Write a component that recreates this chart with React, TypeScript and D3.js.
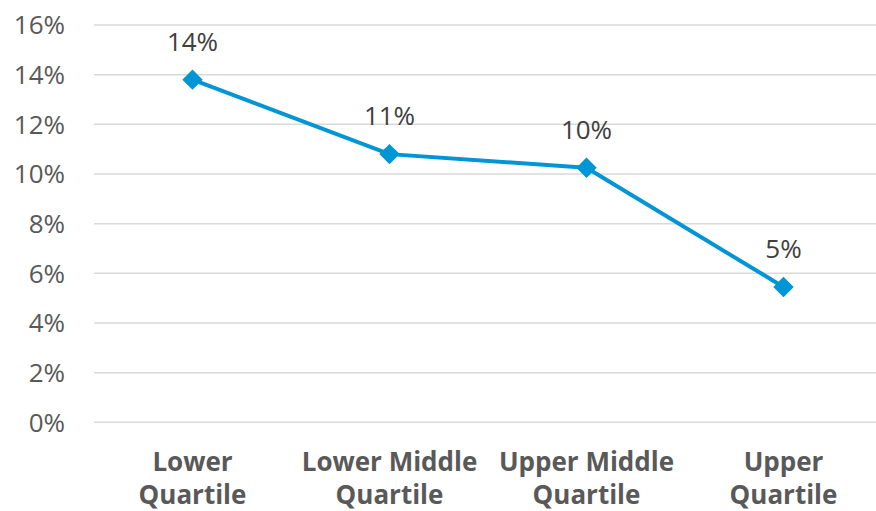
import React from "react";
import * as d3 from "d3";

const categories: string[][] = [
  ["Lower", "Quartile"],
  ["Lower Middle", "Quartile"],
  ["Upper Middle", "Quartile"],
  ["Upper", "Quartile"],
];
const values: number[] = [13.8, 10.8, 10.25, 5.45];
const dataLabels: string[] = ["14%", "11%", "10%", "5%"];
const yTicks: number[] = [0, 2, 4, 6, 8, 10, 12, 14, 16];

const W = 876;
const H = 511;
const FONT = "'Open Sans', sans-serif";

export default function App() {
  const x = d3
    .scaleBand<number>()
    .domain(d3.range(categories.length))
    .range([94, 882]);
  const y = d3.scaleLinear().domain([0, 16]).range([422.3, 25]);
  const cx = (i: number) => (x(i) as number) + x.bandwidth() / 2;
  const line = d3
    .line<number>()
    .x((_, i) => cx(i))
    .y((d) => y(d));

  return (
    <svg
      width={W}
      height={H}
      style={{ position: "absolute", left: 0, top: 0, background: "#fff" }}
    >
      {yTicks.map((t) => (
        <g key={t}>
          <line
            x1={94}
            x2={W}
            y1={y(t)}
            y2={y(t)}
            stroke="#d9d9d9"
            strokeWidth={1.5}
          />
          <text
            x={65}
            y={y(t)}
            dy="0.36em"
            textAnchor="end"
            fontFamily={FONT}
            fontSize={26}
            fill="#595959"
          >
            {t}%
          </text>
        </g>
      ))}
      <path
        d={line(values) || ""}
        fill="none"
        stroke="#0095d5"
        strokeWidth={4}
        strokeLinejoin="round"
      />
      {values.map((v, i) => (
        <g key={i}>
          <rect
            x={cx(i) - 7.2}
            y={y(v) - 7.2}
            width={14.4}
            height={14.4}
            fill="#0095d5"
            transform={`rotate(45 ${cx(i)} ${y(v)})`}
          />
          <text
            x={cx(i)}
            y={y(v) - 29}
            textAnchor="middle"
            fontFamily={FONT}
            fontSize={26}
            fill="#404040"
          >
            {dataLabels[i]}
          </text>
        </g>
      ))}
      {categories.map((lines, i) => (
        <text
          key={i}
          x={cx(i)}
          textAnchor="middle"
          fontFamily={FONT}
          fontSize={26}
          fontWeight="bold"
          fill="#595959"
        >
          {lines.map((l, j) => (
            <tspan key={j} x={cx(i)} y={471 + j * 32.5}>
              {l}
            </tspan>
          ))}
        </text>
      ))}
    </svg>
  );
}
